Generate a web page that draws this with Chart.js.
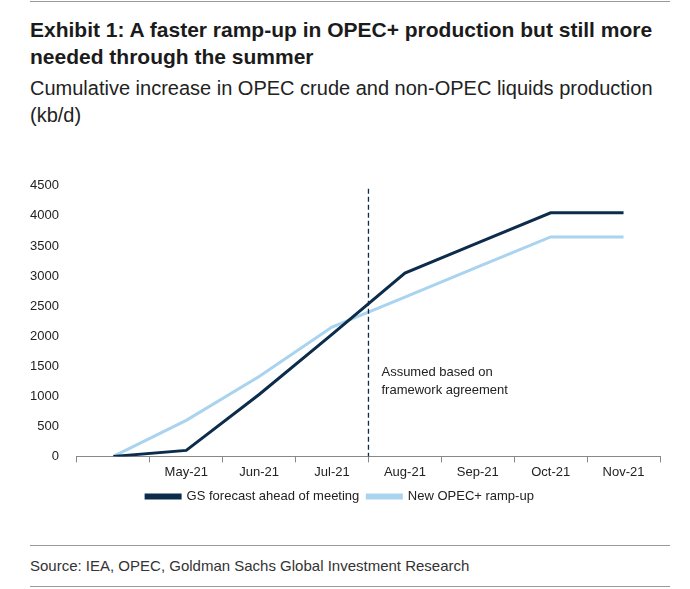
<!DOCTYPE html><html><head><meta charset="utf-8">
<script src="https://cdn.jsdelivr.net/npm/chart.js@4"></script>
<style>
body{margin:0;width:690px;height:589px;background:#fff;font-family:"Liberation Sans Narrow","Arial Narrow","Liberation Sans",sans-serif;position:relative;overflow:hidden}
#top{position:absolute;left:30px;top:1px;width:640px;border-top:1px solid #999}
h1{position:absolute;left:30px;top:16px;margin:0;font-size:21px;line-height:27px;color:#1b1b1b;font-weight:bold;width:640px}
h2{position:absolute;left:30px;top:75px;margin:0;font-size:20px;line-height:27px;color:#222;font-weight:normal;width:640px}
#wrap{position:absolute;left:20px;top:168px;width:650px;height:345px}
#l1{position:absolute;left:30px;top:545px;width:640px;border-top:1px solid #999}
#src{position:absolute;left:30px;top:557px;font-size:15px;color:#333}
#l2{position:absolute;left:30px;top:586px;width:640px;border-top:1px solid #999}
</style></head><body>
<div id="top"></div>
<h1>Exhibit 1: A faster ramp-up in OPEC+ production but still more needed through the summer</h1>
<h2>Cumulative increase in OPEC crude and non-OPEC liquids production (kb/d)</h2>
<div id="wrap"><canvas id="c"></canvas></div>
<div id="l1"></div>
<div id="src">Source: IEA, OPEC, Goldman Sachs Global Investment Research</div>
<div id="l2"></div>
<script>
const categories=["","May-21","Jun-21","Jul-21","Aug-21","Sep-21","Oct-21","Nov-21"];
const gsForecast=[0,100,1030,2030,3050,3550,4050,4050];
const newRamp=[0,600,1330,2150,2650,3150,3650,3650];
const yTicks=[0,500,1000,1500,2000,2500,3000,3500,4000,4500];
const annotation=["Assumed based on","framework agreement"];
const vline={id:'vline',afterDatasetsDraw(ch){const x=ch.scales.x,y=ch.scales.y,c=ch.ctx;
const px=(x.getPixelForValue(3)+x.getPixelForValue(4))/2;
c.save();c.strokeStyle='#0c2c4c';c.lineWidth=1.3;c.setLineDash([5,3]);c.beginPath();c.moveTo(px,y.getPixelForValue(4450));c.lineTo(px,y.bottom);c.stroke();
c.setLineDash([]);c.fillStyle='#222';c.font='13px "Liberation Sans",Arial';
c.fillText(annotation[0],px+13,y.getPixelForValue(1400));c.fillText(annotation[1],px+13,y.getPixelForValue(1100));c.restore();}};
new Chart(document.getElementById('c'),{type:'line',data:{labels:categories,datasets:[
{label:'GS forecast ahead of meeting',data:gsForecast,borderColor:'#0c2c4c',backgroundColor:'#0c2c4c',borderWidth:3,pointRadius:0,tension:0},
{label:'New OPEC+ ramp-up',data:newRamp,borderColor:'#a9d3ef',backgroundColor:'#a9d3ef',borderWidth:3,pointRadius:0,tension:0}]},
options:{responsive:true,maintainAspectRatio:false,animation:false,layout:{padding:{left:0,right:10,top:5,bottom:0}},
plugins:{legend:{position:'bottom',labels:{boxWidth:34,boxHeight:3,color:'#222',font:{size:13,family:'"Liberation Sans",Arial'},padding:8}},tooltip:{enabled:false}},
scales:{x:{offset:true,grid:{display:true,drawOnChartArea:false,tickLength:6,color:'#888',offset:true},border:{color:'#888'},ticks:{color:'#222',font:{size:13,family:'"Liberation Sans",Arial'},maxRotation:0,padding:2}},
y:{min:0,max:4500,afterBuildTicks(s){s.ticks=yTicks.map(v=>({value:v}));},grid:{display:false},border:{display:false},ticks:{color:'#222',font:{size:13,family:'"Liberation Sans",Arial'},padding:10,callback:v=>String(v)}}}}
,plugins:[vline]});
</script></body></html>
